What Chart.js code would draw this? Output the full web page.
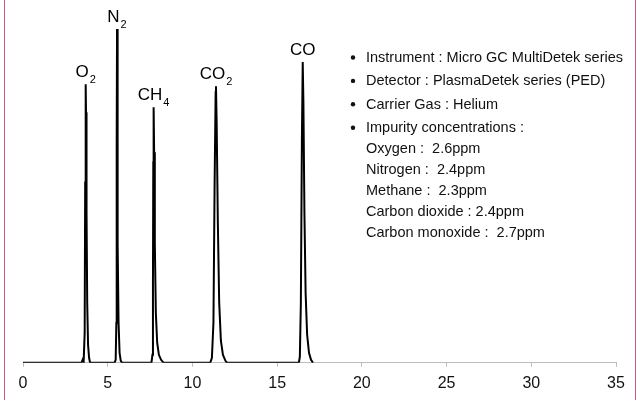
<!DOCTYPE html>
<html lang="en">
<head>
    <meta charset="UTF-8">
    <title>Micro GC chromatogram</title>
    <script src="https://cdn.jsdelivr.net/npm/chart.js"></script>
    <style>
        body, html {
            margin: 0;
            background: #fff;
        }
        .chart-container {
            position: relative;
            width: 637px;
            height: 400px;
        }
        .edge {
            position: absolute;
            top: 0;
            width: 1px;
            height: 400px;
            background: #c8607c;
        }
    </style>
</head>
<body>
    <div class="chart-container">
        <canvas id="chromChart" width="637" height="400"></canvas>
        <div class="edge" style="left:4px"></div>
        <div class="edge" style="left:635px"></div>
    </div>
    <script>
        // retention time (min) and detector signal
        const retentionTimes = [
            0, 3.45, 3.52, 3.58, 3.64, 3.67, 3.70, 3.72, 3.75, 3.79, 3.84, 3.90, 3.96,
            5.40, 5.47, 5.51, 5.53, 5.55, 5.57, 5.60, 5.64, 5.70, 5.77, 5.85,
            7.58, 7.64, 7.67, 7.69, 7.71, 7.74, 7.78, 7.84, 7.92, 8.02, 8.15, 8.30,
            11.05, 11.15, 11.24, 11.31, 11.37, 11.39, 11.43, 11.50, 11.58, 11.68, 11.80, 11.95, 12.05,
            16.28, 16.34, 16.40, 16.46, 16.51, 16.55, 16.61, 16.68, 16.77, 16.88, 17.00, 17.12
        ];
        const signal = [
            0, 0, 3, 1, 30, 180, 278, 250, 150, 60, 18, 5, 0,
            0, 3, 40, 220, 333, 260, 120, 40, 10, 2, 0,
            0, 8, 80, 200, 255, 210, 120, 50, 20, 8, 3, 0,
            0, 5, 40, 180, 270, 276, 240, 140, 60, 22, 8, 2, 0,
            0, 6, 60, 220, 300, 260, 150, 70, 28, 10, 3, 0
        ];

        const peakNames = ['O', 'N', 'CH', 'CO', 'CO'];
        const peakSubscripts = ['2', '2', '4', '2', ''];
        const peakTimes = [3.70, 5.55, 7.71, 11.39, 16.51];
        const peakHeights = [278, 333, 255, 276, 300];

        const xTicks = [0, 5, 10, 15, 20, 25, 30, 35];

        const bulletLines = [
            'Instrument : Micro GC MultiDetek series',
            'Detector : PlasmaDetek series (PED)',
            'Carrier Gas : Helium',
            'Impurity concentrations :'
        ];
        const concentrationLines = [
            'Oxygen :  2.6ppm',
            'Nitrogen :  2.4ppm',
            'Methane :  2.3ppm',
            'Carbon dioxide : 2.4ppm',
            'Carbon monoxide :  2.7ppm'
        ];

        const peakLabels = {
            id: 'peakLabels',
            afterDatasetsDraw(chart) {
                const ctx = chart.ctx;
                const xs = chart.scales.x, ys = chart.scales.y;
                const mainFont = '17px "Liberation Sans", Arial, sans-serif';
                const subFont = '11px "Liberation Sans", Arial, sans-serif';
                ctx.save();
                ctx.fillStyle = '#000';
                ctx.textBaseline = 'alphabetic';
                ctx.textAlign = 'left';
                peakNames.forEach((name, i) => {
                    const px = xs.getPixelForValue(peakTimes[i]);
                    const py = ys.getPixelForValue(peakHeights[i]);
                    ctx.font = mainFont;
                    const w1 = ctx.measureText(name).width;
                    ctx.font = subFont;
                    const w2 = peakSubscripts[i] ? ctx.measureText(peakSubscripts[i]).width + 1 : 0;
                    const left = px - (w1 + w2) / 2;
                    ctx.font = mainFont;
                    ctx.fillText(name, left, py - 7);
                    if (peakSubscripts[i]) {
                        ctx.font = subFont;
                        ctx.fillText(peakSubscripts[i], left + w1 + 1, py - 1);
                    }
                });

                // info block on the right
                ctx.font = '14.5px "Liberation Sans", Arial, sans-serif';
                ctx.fillStyle = '#111';
                let y = 62;
                bulletLines.forEach(line => {
                    ctx.beginPath();
                    ctx.arc(353, y - 4.5, 2.2, 0, Math.PI * 2);
                    ctx.fill();
                    ctx.fillText(line, 366, y);
                    y += 23.4;
                });
                y -= 3;
                concentrationLines.forEach(line => {
                    ctx.fillText(line, 366, y);
                    y += 21;
                });
                ctx.restore();
            }
        };

        const ctx = document.getElementById('chromChart').getContext('2d');
        const chromChart = new Chart(ctx, {
            type: 'line',
            data: {
                datasets: [{
                    data: retentionTimes.map((t, i) => ({ x: t, y: signal[i] })),
                    borderColor: '#000',
                    borderWidth: 2,
                    pointRadius: 0,
                    tension: 0,
                    fill: false
                }]
            },
            options: {
                responsive: false,
                animation: false,
                devicePixelRatio: 1,
                layout: {
                    padding: { top: 22, left: 23, right: 21, bottom: 0 }
                },
                plugins: {
                    legend: { display: false },
                    tooltip: { enabled: false }
                },
                scales: {
                    x: {
                        type: 'linear',
                        min: 0,
                        max: 35,
                        afterBuildTicks: axis => {
                            axis.ticks = xTicks.map(v => ({ value: v }));
                        },
                        grid: {
                            drawOnChartArea: false,
                            drawTicks: true,
                            tickLength: 4,
                            color: '#bdbdbd'
                        },
                        border: { display: true, color: '#bdbdbd', width: 1 },
                        ticks: {
                            color: '#111',
                            padding: 7,
                            maxRotation: 0,
                            font: { family: '"Liberation Sans", Arial, sans-serif', size: 16 }
                        }
                    },
                    y: {
                        display: false,
                        min: 0,
                        max: 340
                    }
                }
            },
            plugins: [peakLabels]
        });
    </script>
</body>
</html>
